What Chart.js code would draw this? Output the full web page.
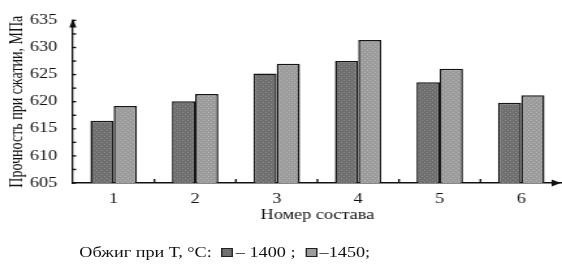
<!DOCTYPE html>
<html>
<head>
<meta charset="utf-8">
<script src="https://cdn.jsdelivr.net/npm/chart.js@4.4.0/dist/chart.umd.min.js"></script>
<style>
    html, body { margin: 0; padding: 0; background: #fff; overflow: hidden; }
    /* the source figure is stretched sideways, so the whole plot is too */
    #wrap {
        position: relative; width: 432px; height: 264px;
        transform: scaleX(1.3009); transform-origin: 0 0;
    }
    #chart { position: absolute; left: 0; top: 0; }
    #legend {
        position: absolute; left: 61px; top: 245px;
        font-family: "Liberation Serif", serif; font-size: 14px; color: #111;
        white-space: nowrap;
    }
    .swatch {
        display: inline-block; width: 7px; height: 7px;
        border: 1.3px solid #222; vertical-align: 0px; margin: 0 2px 0 4px;
    }
</style>
</head>
<body>
<div id="wrap">
    <canvas id="chart" width="432" height="230"></canvas>
    <div id="legend"></div>
</div>
<script>
// data
const categories = ['1', '2', '3', '4', '5', '6'];
const values1400 = [616.5, 620.1, 625.2, 627.5, 623.6, 619.8];
const values1450 = [619.2, 621.4, 627.0, 631.4, 626.1, 621.2];
const seriesLabels = ['– 1400 ;', '–1450;'];
const yTicks = [605, 610, 615, 620, 625, 630, 635];

const colors = ['#707070', '#9c9c9c'];
const serif = "'Liberation Serif', serif";
Chart.defaults.font.family = serif;

// dotted fill like the scanned print
function dotted(base, dot) {
    const c = document.createElement('canvas');
    c.width = 4; c.height = 4;
    const g = c.getContext('2d');
    g.fillStyle = base;
    g.fillRect(0, 0, 4, 4);
    g.fillStyle = dot;
    g.fillRect(0, 0, 1, 1);
    g.fillRect(2, 2, 1, 1);
    return g.createPattern(c, 'repeat');
}

// small arrows and inner tick marks, like the original plot
const axisDecor = {
    id: 'axisDecor',
    afterDraw(chart) {
        const ctx = chart.ctx;
        const x = chart.scales.x;
        const y = chart.scales.y;
        const area = chart.chartArea;
        ctx.save();
        ctx.strokeStyle = '#111';
        ctx.fillStyle = '#111';
        ctx.lineWidth = 1.4;

        // minor ticks every 2.5 on y, inside the plot
        for (let v = yTicks[0]; v <= yTicks[yTicks.length - 1]; v += 2.5) {
            const py = y.getPixelForValue(v);
            ctx.beginPath();
            ctx.moveTo(area.left, py);
            ctx.lineTo(area.left + 2.5, py);
            ctx.stroke();
        }
        // category separator ticks on x
        for (let i = 1; i < categories.length; i++) {
            const px = (x.getPixelForValue(i - 1) + x.getPixelForValue(i)) / 2;
            ctx.beginPath();
            ctx.moveTo(px, area.bottom);
            ctx.lineTo(px, area.bottom - 4);
            ctx.stroke();
        }
        // y arrow
        ctx.beginPath();
        ctx.moveTo(area.left, area.top - 2);
        ctx.lineTo(area.left - 2.7, area.top + 7);
        ctx.lineTo(area.left + 2.7, area.top + 7);
        ctx.closePath();
        ctx.fill();
        // x arrow
        ctx.beginPath();
        ctx.moveTo(area.right - 1, area.bottom);
        ctx.lineTo(area.right - 8, area.bottom - 3.5);
        ctx.lineTo(area.right - 8, area.bottom + 3.5);
        ctx.closePath();
        ctx.fill();
        ctx.restore();
    }
};

const ctx = document.getElementById('chart').getContext('2d');
new Chart(ctx, {
    type: 'bar',
    data: {
        labels: categories,
        datasets: [
            {
                label: seriesLabels[0],
                data: values1400,
                backgroundColor: dotted(colors[0], '#8a8a8a'),
                borderColor: '#151515',
                borderWidth: 1.5,
                barPercentage: 1,
                categoryPercentage: 0.57
            },
            {
                label: seriesLabels[1],
                data: values1450,
                backgroundColor: dotted(colors[1], '#b2b2b2'),
                borderColor: '#151515',
                borderWidth: 1.5,
                barPercentage: 1,
                categoryPercentage: 0.57
            }
        ]
    },
    options: {
        responsive: false,
        animation: false,
        layout: { padding: { left: 5, right: 0, top: 5, bottom: 0 } },
        plugins: {
            legend: { display: false },
            tooltip: { enabled: false }
        },
        scales: {
            x: {
                grid: { display: false, drawTicks: false },
                border: { display: true, color: '#111', width: 1.5 },
                ticks: {
                    color: '#111',
                    padding: 8,
                    font: { family: serif, size: 14 }
                },
                title: {
                    display: true,
                    text: 'Номер состава',
                    color: '#111',
                    padding: { top: 0, bottom: 6 },
                    font: { family: serif, size: 14 }
                },
                afterFit(scale) { scale.height = 47; }
            },
            y: {
                min: yTicks[0],
                max: yTicks[yTicks.length - 1],
                afterBuildTicks(scale) {
                    scale.ticks = yTicks.map(v => ({ value: v }));
                },
                grid: { display: false, drawTicks: false },
                border: { display: true, color: '#111', width: 1.3 },
                ticks: {
                    color: '#111',
                    padding: 12,
                    font: { family: serif, size: 14 }
                },
                title: {
                    display: true,
                    text: 'Прочность при сжатии, МПа',
                    color: '#111',
                    padding: { top: 0, bottom: 0 },
                    font: { family: serif, size: 14 }
                },
                afterFit(scale) { scale.width = 51; }
            }
        }
    },
    plugins: [axisDecor]
});

// legend line under the chart
const legend = document.getElementById('legend');
legend.innerHTML = 'Обжиг при Т, °С: ' +
    seriesLabels.map((lab, i) =>
        `<span class="swatch" style="background:${colors[i]}"></span>${lab}`
    ).join(' ');
</script>
</body>
</html>
